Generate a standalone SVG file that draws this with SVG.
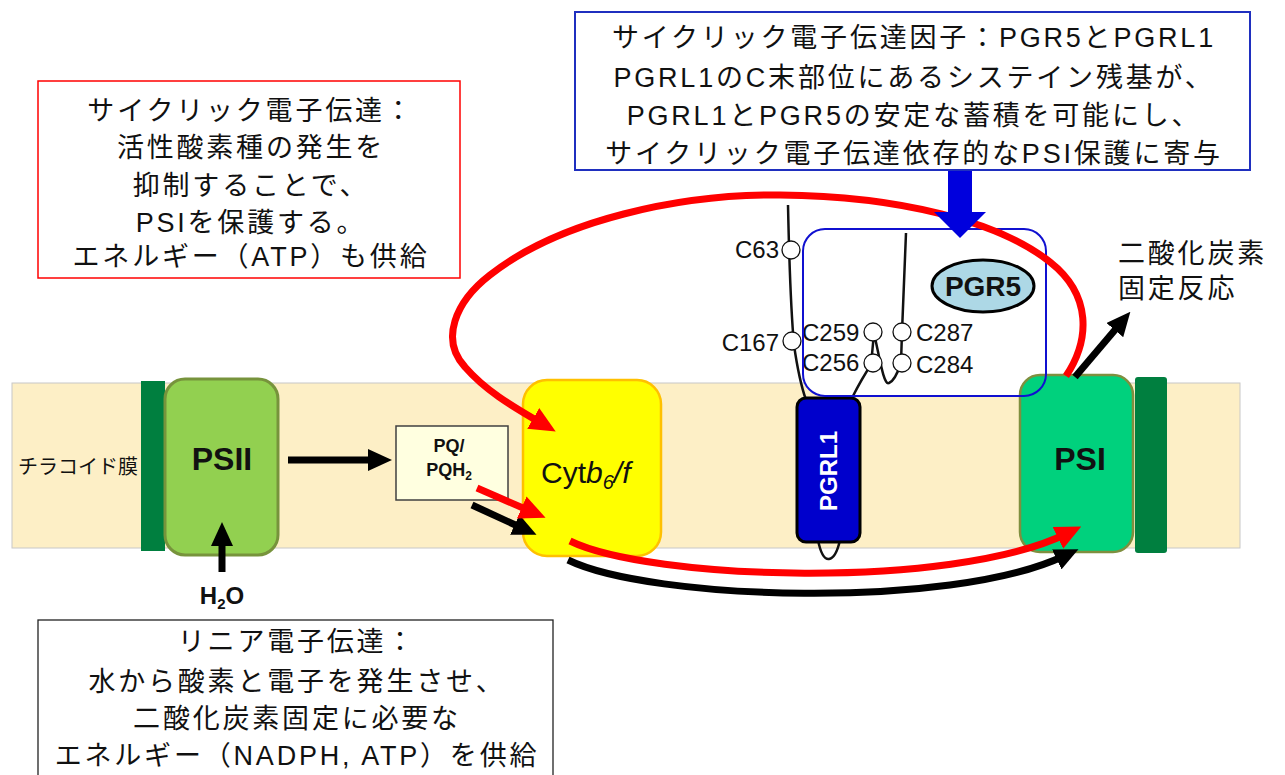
<svg xmlns="http://www.w3.org/2000/svg" width="1285" height="775" viewBox="0 0 1285 775">
<style>
.ann{font-family:"Liberation Sans","Noto Sans CJK JP",sans-serif;font-size:27px;letter-spacing:2.8px;fill:#111;text-anchor:middle}
.lbl{font-family:"Liberation Sans","Noto Sans CJK JP",sans-serif;fill:#111}
.bold{font-weight:bold}
.cl{font-family:"Liberation Sans",sans-serif;font-size:24px;fill:#111}
.res{fill:#fff;stroke:#111;stroke-width:1.3}
.strand{fill:none;stroke:#111;stroke-width:2.5}
.blk{fill:none;stroke:#000;stroke-width:7}
.red{fill:none;stroke:#ff0000;stroke-width:7}
</style>
<defs>
<marker id="ahB" markerUnits="userSpaceOnUse" markerWidth="24" markerHeight="22" refX="8" refY="11" orient="auto" viewBox="0 0 24 22">
<path d="M0,0 L24,11 L0,22 z" fill="#000"/>
</marker>
<marker id="ahR" markerUnits="userSpaceOnUse" markerWidth="26" markerHeight="24" refX="9" refY="12" orient="auto" viewBox="0 0 26 24">
<path d="M0,0 L26,12 L0,24 z" fill="#ff0000"/>
</marker>
</defs>
<rect width="1285" height="775" fill="#fff"/>

<g id="membrane">
<rect x="12" y="383" width="1228" height="165" fill="#fdefc6" stroke="#c8c8c8" stroke-width="1"/>
<text class="lbl" x="18" y="474" font-size="20">チラコイド膜</text>
</g>

<g id="pgr5-complex-bg">
<rect x="803" y="229" width="243" height="167" rx="22" fill="#fff"/>
</g>

<g id="bar-left"><rect x="141" y="381" width="24" height="170" fill="#007f3f"/></g>
<g id="bar-right"><rect x="1135" y="377" width="32" height="176" rx="3" fill="#007f3f"/></g>

<g id="psii">
<rect x="165" y="379" width="113" height="176" rx="20" fill="#92d050" stroke="#77933c" stroke-width="3"/>
<text class="lbl bold" x="222" y="470" font-size="32" text-anchor="middle">PSII</text>
</g>

<g id="psi">
<rect x="1020" y="375" width="113" height="177" rx="20" fill="#00d17d" stroke="#7f8f3f" stroke-width="2.5"/>
<text class="lbl bold" x="1080" y="470" font-size="32" text-anchor="middle">PSI</text>
</g>

<g id="cytb6f">
<rect x="523" y="380" width="138" height="176" rx="24" fill="#ffff00" stroke="#ffc000" stroke-width="2.5"/>
<text class="lbl" x="541" y="483" font-size="30">Cyt<tspan font-style="italic">b</tspan><tspan font-style="italic" font-size="20" dy="6">6</tspan><tspan dy="-6" font-style="italic">/f</tspan></text>
</g>

<g id="pq">
<rect x="396" y="426" width="112" height="74" fill="#ffffe0" stroke="#404040" stroke-width="1.5"/>
<text class="lbl bold" x="449" y="452" font-size="18" text-anchor="middle">PQ/</text>
<text class="lbl bold" x="449" y="476" font-size="18" text-anchor="middle">PQH<tspan font-size="12" dy="4">2</tspan></text>
</g>

<g id="pgrl1">
<path class="strand" d="M788,205 Q790,300 794,345 Q799,380 806,400"/>
<path class="strand" d="M852,398 Q862,378 871,365 L874,333 C880,360 884,386 889,383 C894,381 898,372 901,363 L902,332 Q904,280 906,233"/>
<path class="strand" d="M818,540 Q822,560 829,559 Q836,558 840,540"/>
<rect x="797" y="398" width="63" height="144" rx="9" fill="#0000cc" stroke="#000" stroke-width="3"/>
<text class="lbl bold" x="0" y="0" font-size="24" text-anchor="middle" transform="translate(837,471) rotate(-90)" style="fill:#fff">PGRL1</text>
<circle class="res" cx="791" cy="250" r="9"/>
<circle class="res" cx="792" cy="341" r="9"/>
<circle class="res" cx="873" cy="332" r="9"/>
<circle class="res" cx="873" cy="363" r="9"/>
<circle class="res" cx="902" cy="332" r="9"/>
<circle class="res" cx="902" cy="363" r="9"/>
<text class="cl" x="779" y="258" text-anchor="end">C63</text>
<text class="cl" x="779" y="351" text-anchor="end">C167</text>
<text class="cl" x="802" y="341">C259</text>
<text class="cl" x="802" y="371">C256</text>
<text class="cl" x="916" y="341">C287</text>
<text class="cl" x="916" y="373">C284</text>
</g>

<g id="pgr5">
<ellipse cx="983" cy="286" rx="51" ry="26" fill="#add8e6" stroke="#000" stroke-width="3"/>
<text class="lbl bold" x="983" y="296" font-size="28" text-anchor="middle">PGR5</text>
</g>

<g id="pgr5-complex">
<rect x="803" y="229" width="243" height="167" rx="22" fill="none" stroke="#1010d0" stroke-width="2"/>
</g>

<g id="connectors">
<path class="blk" d="M288,460 L376,460" marker-end="url(#ahB)"/>
<path class="blk" d="M222,572 L222,538" marker-end="url(#ahB)"/>
<path class="blk" d="M472,505 L522,528" marker-end="url(#ahB)"/>
<path class="blk" d="M568,560 C650,600 950,610 1064,556" marker-end="url(#ahB)"/>
<path class="blk" d="M1075,377 L1120,324" marker-end="url(#ahB)"/>
<path class="red" d="M477,488 L530,511" marker-end="url(#ahR)"/>
<path class="red" d="M570,541 C650,580 950,590 1066,534" marker-end="url(#ahR)"/>
<path class="red" d="M1066,376 C1090,340 1092,295 1050,262 C1000,222 900,196 780,195 C680,194 560,220 490,275 C455,302 440,340 465,367 C485,390 510,405 541,423" marker-end="url(#ahR)"/>
<polygon points="948,170 972,170 972,212 986,212 960,238 934,212 948,212" fill="#0000dd"/>
</g>

<g id="h2o">
<text class="lbl bold" x="222" y="604" font-size="24" text-anchor="middle">H<tspan font-size="15" dy="5">2</tspan><tspan dy="-5">O</tspan></text>
</g>

<g id="co2-label">
<text class="ann" x="1118" y="263" style="text-anchor:start">二酸化炭素</text>
<text class="ann" x="1118" y="298" style="text-anchor:start">固定反応</text>
</g>

<g id="box-cyclic">
<rect x="38" y="81" width="422" height="197" fill="#fff" stroke="#ff0000" stroke-width="1.5"/>
<text class="ann" x="251" y="120">サイクリック電子伝達：</text>
<text class="ann" x="251" y="157">活性酸素種の発生を</text>
<text class="ann" x="251" y="195">抑制することで、</text>
<text class="ann" x="251" y="232">PSIを保護する。</text>
<text class="ann" x="251" y="266">エネルギー（ATP）も供給</text>
</g>

<g id="box-factor">
<rect x="575" y="12" width="675" height="158" fill="#fff" stroke="#1f2fbf" stroke-width="2"/>
<text class="ann" x="914" y="47">サイクリック電子伝達因子：PGR5とPGRL1</text>
<text class="ann" x="914" y="87">PGRL1のC末部位にあるシステイン残基が、</text>
<text class="ann" x="914" y="125">PGRL1とPGR5の安定な蓄積を可能にし、</text>
<text class="ann" x="914" y="163">サイクリック電子伝達依存的なPSI保護に寄与</text>
</g>

<g id="box-linear">
<rect x="38" y="620" width="515" height="170" fill="#fff" stroke="#222" stroke-width="1.3"/>
<text class="ann" x="297" y="651">リニア電子伝達：</text>
<text class="ann" x="297" y="691">水から酸素と電子を発生させ、</text>
<text class="ann" x="297" y="728">二酸化炭素固定に必要な</text>
<text class="ann" x="297" y="765">エネルギー（NADPH, ATP）を供給</text>
</g>
</svg>
